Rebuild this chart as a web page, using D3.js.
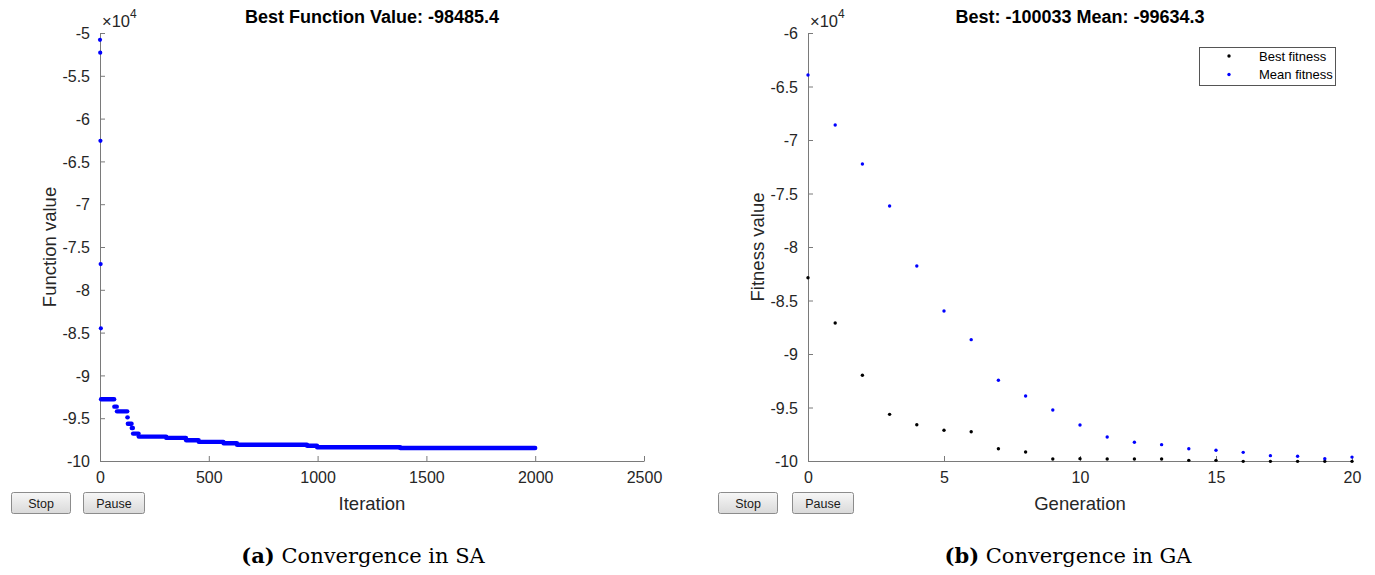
<!DOCTYPE html>
<html>
<head>
<meta charset="utf-8">
<script src="https://cdn.jsdelivr.net/npm/d3@7"></script>
<style>
  html, body { margin: 0; padding: 0; background: #fff; }
  svg { display: block; }
</style>
</head>
<body>
<svg id="chart" width="1375" height="575"></svg>
<script>
// ---------------- DATA ----------------
// (a) Simulated annealing: early iterations (isolated points)
const saStartIter  = [0, 1, 2, 3, 4];
const saStartValue = [-50800, -52300, -62600, -77000, -84500];
// (a) Simulated annealing: best value plateaus (start iteration, value)
const saStepIter  = [5, 66, 78, 126, 128, 146, 152, 178, 305, 396, 454, 568, 630, 952, 998, 1380];
const saStepValue = [-92790, -93650, -94200, -94900, -95650, -96150, -96800, -97150, -97300, -97580, -97760, -97930, -98100, -98220, -98400, -98485];
const saLastIter = 2000;
const saXTicks = [0, 500, 1000, 1500, 2000, 2500];
const saYTicks = [-100000, -95000, -90000, -85000, -80000, -75000, -70000, -65000, -60000, -55000, -50000];

// (b) Genetic algorithm
const gaGenerations = [0,1,2,3,4,5,6,7,8,9,10,11,12,13,14,15,16,17,18,19,20];
const gaBest = [-82870, -87100, -91990, -95640, -96610, -97130, -97260, -98850, -99160, -99810, -99780, -99810, -99810, -99810, -99940, -99940, -100033, -100033, -100033, -100033, -100033];
const gaMean = [-63930, -68600, -72240, -76170, -81780, -85980, -88660, -92460, -93930, -95230, -96640, -97760, -98250, -98470, -98850, -99000, -99190, -99500, -99560, -99780, -99634];
const gaXTicks = [0, 5, 10, 15, 20];
const gaYTicks = [-100000, -95000, -90000, -85000, -80000, -75000, -70000, -65000, -60000];

const legendLabels = ["Best fitness", "Mean fitness"];
const seriesColors = ["#000000", "#0000ff"];

// ---------------- DRAW ----------------
const svg = d3.select("#chart");
const SANS = "'Liberation Sans', Arial, Helvetica, sans-serif";
const SERIF = "'DejaVu Serif', 'Liberation Serif', serif";
const AXIS_COLOR = "#7a7a7a";
const TEXT_COLOR = "#262626";

const defs = svg.append("defs");
const grad = defs.append("linearGradient").attr("id", "btnGrad")
  .attr("x1", 0).attr("y1", 0).attr("x2", 0).attr("y2", 1);
grad.append("stop").attr("offset", "0%").attr("stop-color", "#f7f7f7");
grad.append("stop").attr("offset", "100%").attr("stop-color", "#d9d9d9");

function panel(cfg) {
  const g = svg.append("g");
  const x = d3.scaleLinear().domain(cfg.xDomain).range([cfg.left, cfg.right]);
  const y = d3.scaleLinear().domain(cfg.yDomain).range([cfg.bottom, cfg.top]);

  const xAxis = g.append("g").attr("transform", `translate(0,${cfg.bottom})`)
    .call(d3.axisBottom(x).tickValues(cfg.xTicks).tickSizeInner(-5).tickSizeOuter(0).tickPadding(11).tickFormat(d3.format("d")));
  const yAxis = g.append("g").attr("transform", `translate(${cfg.left},0)`)
    .call(d3.axisLeft(y).tickValues(cfg.yTicks).tickSizeInner(-5).tickSizeOuter(0).tickPadding(10).tickFormat(d => String(d / 1e4)));
  [xAxis, yAxis].forEach(a => {
    a.select(".domain").attr("stroke", AXIS_COLOR).attr("stroke-width", 1);
    a.selectAll(".tick line").attr("stroke", AXIS_COLOR);
    a.selectAll(".tick text").attr("fill", TEXT_COLOR).style("font-family", SANS).style("font-size", "16px");
  });
  yAxis.selectAll(".tick text").attr("dy", "0.36em");

  // exponent label
  const ex = g.append("text").attr("x", cfg.left + 2).attr("y", 27)
    .style("font-family", SANS).style("font-size", "16.5px").attr("fill", TEXT_COLOR);
  ex.append("tspan").text("\u00d710");
  ex.append("tspan").attr("dy", -9).style("font-size", "12px").text("4");

  // title
  g.append("text").attr("x", (cfg.left + cfg.right) / 2).attr("y", 23)
    .attr("text-anchor", "middle").style("font-family", SANS).style("font-size", "18px")
    .style("font-weight", "bold").attr("fill", "#000").text(cfg.title);

  // axis labels
  g.append("text").attr("x", (cfg.left + cfg.right) / 2).attr("y", 510)
    .attr("text-anchor", "middle").style("font-family", SANS).style("font-size", "18.5px")
    .attr("fill", TEXT_COLOR).text(cfg.xLabel);
  g.append("text").attr("transform", `translate(${cfg.left - 44},${(cfg.top + cfg.bottom) / 2}) rotate(-90)`)
    .attr("text-anchor", "middle").style("font-family", SANS).style("font-size", "18.5px")
    .attr("fill", TEXT_COLOR).text(cfg.yLabel);

  // buttons
  [["Stop", cfg.btnX[0], 59], ["Pause", cfg.btnX[1], 61]].forEach(([lab, bx, bw]) => {
    const b = g.append("g").attr("transform", `translate(${bx},492)`);
    b.append("rect").attr("x", 0.5).attr("y", 0.5).attr("width", bw).attr("height", 21).attr("rx", 2)
      .attr("fill", "url(#btnGrad)").attr("stroke", "#8c8c8c");
    b.append("text").attr("x", bw / 2 + 0.5).attr("y", 16).attr("text-anchor", "middle")
      .style("font-family", SANS).style("font-size", "12.5px").attr("fill", "#1a1a1a").text(lab);
  });

  // caption
  const cap = g.append("text").attr("x", cfg.capX).attr("y", 563).attr("text-anchor", "middle")
    .style("font-family", SERIF).style("font-size", "21px").attr("fill", "#000");
  cap.append("tspan").style("font-weight", "bold").text(cfg.capTag);
  cap.append("tspan").text(" " + cfg.capText);

  return { g, x, y };
}

// ----- Panel (a) -----
const A = panel({
  left: 100, right: 644, top: 33, bottom: 461,
  xDomain: [0, 2500], yDomain: [-100000, -50000],
  xTicks: saXTicks, yTicks: saYTicks,
  title: "Best Function Value: -98485.4",
  xLabel: "Iteration", yLabel: "Function value",
  btnX: [11, 83], capX: 363, capTag: "(a)", capText: "Convergence in SA"
});
const steps = saStepIter.map((it, i) => ({
  x0: it, x1: i < saStepIter.length - 1 ? saStepIter[i + 1] - 1 : saLastIter, v: saStepValue[i]
}));
A.g.append("g").selectAll("line").data(steps).join("line")
  .attr("x1", d => A.x(d.x0)).attr("x2", d => A.x(d.x1))
  .attr("y1", d => A.y(d.v)).attr("y2", d => A.y(d.v))
  .attr("stroke", "#0000ff").attr("stroke-width", 4.4).attr("stroke-linecap", "round");
A.g.append("g").selectAll("circle").data(saStartIter.map((it, i) => ({ it, v: saStartValue[i] }))).join("circle")
  .attr("cx", d => A.x(d.it)).attr("cy", d => A.y(d.v)).attr("r", 2.1).attr("fill", "#0000ff");

// ----- Panel (b) -----
const B = panel({
  left: 808, right: 1352, top: 33, bottom: 461,
  xDomain: [0, 20], yDomain: [-100000, -60000],
  xTicks: gaXTicks, yTicks: gaYTicks,
  title: "Best: -100033 Mean: -99634.3",
  xLabel: "Generation", yLabel: "Fitness value",
  btnX: [718, 792], capX: 1068, capTag: "(b)", capText: "Convergence in GA"
});
[gaBest, gaMean].forEach((series, si) => {
  B.g.append("g").selectAll("circle").data(gaGenerations.map((gen, i) => ({ gen, v: series[i] }))).join("circle")
    .attr("cx", d => B.x(d.gen)).attr("cy", d => B.y(d.v)).attr("r", 1.7).attr("fill", seriesColors[si]);
});

// legend
const leg = B.g.append("g").attr("transform", "translate(1199,47)");
leg.append("rect").attr("x", 0.5).attr("y", 0.5).attr("width", 136).attr("height", 38)
  .attr("fill", "#fff").attr("stroke", "#555");
legendLabels.forEach((lab, i) => {
  leg.append("circle").attr("cx", 30).attr("cy", 9 + i * 18.5).attr("r", 1.7).attr("fill", seriesColors[i]);
  leg.append("text").attr("x", 60).attr("y", 9 + i * 18.5).attr("dy", "0.35em")
    .style("font-family", SANS).style("font-size", "13px").attr("fill", "#000").text(lab);
});
</script>
</body>
</html>
